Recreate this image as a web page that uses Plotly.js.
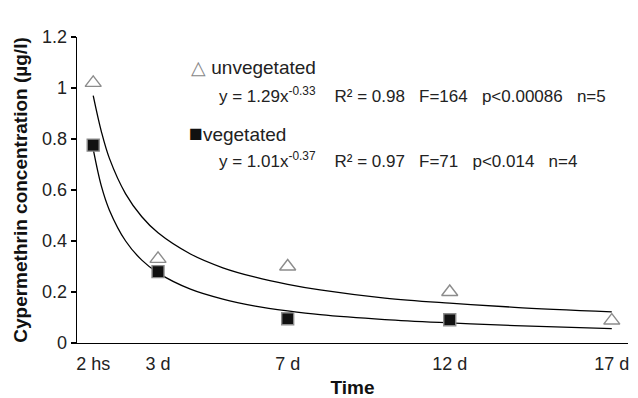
<!DOCTYPE html>
<html><head><meta charset="utf-8">
<script src="https://cdn.plot.ly/plotly-3.0.1.min.js"></script>
<style>html,body{margin:0;padding:0;background:#fff}</style>
</head><body><div id="chart" style="width:638px;height:398px"></div>
<script>
// Sampling times (x position in days; "2 hs" plotted at 1)
var tickVals = [1, 3, 7, 12, 17];
var tickLabels = ["2 hs", "3 d", "7 d", "12 d", "17 d"];

// Measured concentrations (µg/l)
var unvegX = [1, 3, 7, 12, 17];
var unvegY = [1.02, 0.33, 0.30, 0.20, 0.088];
var vegX = [1, 3, 7, 12];
var vegY = [0.776, 0.28, 0.095, 0.091];

// Fitted curves
var fitX = [1, 1.25, 1.5, 2, 2.5, 3, 4, 5, 6, 7, 8, 10, 12, 14, 17];
var unvegFitY = [0.97, 0.83, 0.724, 0.585, 0.495, 0.432, 0.349, 0.295, 0.258, 0.23, 0.208, 0.176, 0.156, 0.14, 0.122];
var vegFitY = [0.76, 0.616, 0.521, 0.40, 0.325, 0.275, 0.211, 0.172, 0.145, 0.126, 0.111, 0.092, 0.079, 0.068, 0.056];

var traces = [
  {x: fitX, y: unvegFitY, mode: 'lines', line: {color: '#000', width: 1.3, shape: 'spline'}, hoverinfo: 'skip'},
  {x: fitX, y: vegFitY, mode: 'lines', line: {color: '#000', width: 1.3, shape: 'spline'}, hoverinfo: 'skip'},
  {x: unvegX, y: unvegY, mode: 'markers', name: 'unvegetated',
   marker: {symbol: 'triangle-up-open', size: 14, color: '#8c8c8c', line: {width: 1.4, color: '#8c8c8c'}}},
  {x: vegX, y: vegY, mode: 'markers', name: 'vegetated',
   marker: {symbol: 'square', size: 12, color: '#111', line: {width: 1.4, color: '#8c8c8c'}}}
];

var F = 'Liberation Sans, Arial, sans-serif';
var S = '&nbsp;';
var layout = {
  width: 638, height: 398,
  margin: {l: 77, r: 10, t: 37, b: 55},
  showlegend: false,
  paper_bgcolor: '#fff', plot_bgcolor: '#fff',
  font: {family: F, size: 18, color: '#222'},
  xaxis: {
    range: [0.5, 17.5], tickmode: 'array', tickvals: tickVals, ticktext: tickLabels,
    showgrid: false, zeroline: false, showline: true, linecolor: '#000', linewidth: 1.3,
    ticks: '', ticklabelstandoff: 4, tickfont: {family: F, size: 18, color: '#222'},
    title: {text: '<b>Time</b>', font: {family: F, size: 19, color: '#111'}, standoff: 10}
  },
  yaxis: {
    range: [0, 1.2], dtick: 0.2, tick0: 0,
    showgrid: false, zeroline: false, showline: true, linecolor: '#000', linewidth: 1.3,
    ticks: 'outside', ticklen: 5, tickwidth: 1.3, tickcolor: '#000',
    tickfont: {family: F, size: 18, color: '#222'},
    title: {text: '<b>Cypermethrin concentration (µg/l)</b>', font: {family: F, size: 19, color: '#111'}, standoff: 9}
  },
  annotations: [
    {xref: 'paper', yref: 'paper', x: 0.203, y: 0.899, xanchor: 'left', yanchor: 'middle', showarrow: false,
     text: '<span style="color:#888">△</span> unvegetated', font: {family: F, size: 19, color: '#222'}},
    {xref: 'paper', yref: 'paper', x: 0.254, y: 0.81, xanchor: 'left', yanchor: 'middle', showarrow: false,
     text: 'y = 1.29x<sup>-0.33</sup>' + S + S + S + S + 'R² = 0.98' + S + S + S + 'F=164' + S + S + S + 'p<0.00086' + S + S + S + 'n=5',
     font: {family: F, size: 17, color: '#222'}},
    {xref: 'paper', yref: 'paper', x: 0.2, y: 0.687, xanchor: 'left', yanchor: 'middle', showarrow: false,
     text: '<span style="color:#111;font-size:23px">■</span>vegetated', font: {family: F, size: 19, color: '#222'}},
    {xref: 'paper', yref: 'paper', x: 0.254, y: 0.598, xanchor: 'left', yanchor: 'middle', showarrow: false,
     text: 'y = 1.01x<sup>-0.37</sup>' + S + S + S + S + 'R² = 0.97' + S + S + S + 'F=71' + S + S + S + 'p<0.014' + S + S + S + 'n=4',
     font: {family: F, size: 17, color: '#222'}}
  ]
};
Plotly.newPlot('chart', traces, layout, {staticPlot: true});
</script></body></html>
